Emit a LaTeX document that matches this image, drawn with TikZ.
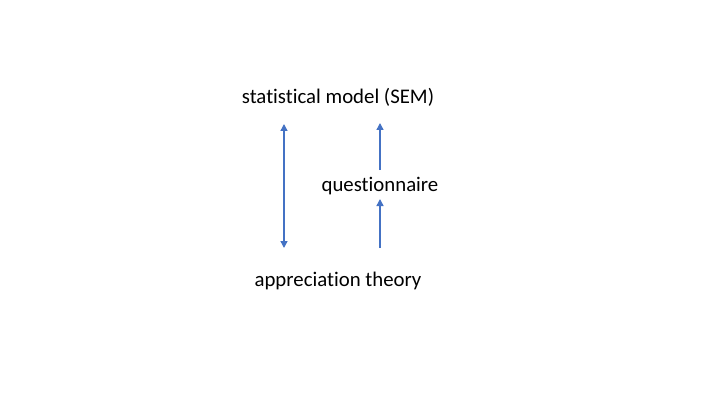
\documentclass[tikz,border=0pt]{standalone}
\usepackage{fontspec}
\setmainfont{Carlito}[Ligatures=NoCommon]
\usetikzlibrary{arrows.meta}
\definecolor{arrowblue}{HTML}{4472C4}
\tikzset{
  lbl/.style={font=\fontsize{20.8}{24}\selectfont, inner sep=0pt, text=black},
  arr/.style={draw=arrowblue, line width=1.4pt, -{Triangle[width=7pt,length=7pt]}},
  darr/.style={draw=arrowblue, line width=1.4pt, {Triangle[width=7pt,length=7pt]}-{Triangle[width=7pt,length=7pt]}}
}
\begin{document}
\begin{tikzpicture}[x=1pt,y=1pt]
\useasboundingbox (0,0) rectangle (720,405);
\node[lbl] (sem) at (338,308) {statistical model (SEM)};
\node[lbl] (q) at (380,219) {questionnaire};
\node[lbl] (app) at (338,124) {appreciation theory};
\coordinate (a1) at (284,281);
\coordinate (a2) at (284,157);
\coordinate (b1) at (380,235);
\coordinate (b2) at (380,282);
\coordinate (c1) at (380,157);
\coordinate (c2) at (380,206);
\draw[darr] (a1) -- (a2);
\draw[arr] (b1) -- (b2);
\draw[arr] (c1) -- (c2);
\end{tikzpicture}
\end{document}
